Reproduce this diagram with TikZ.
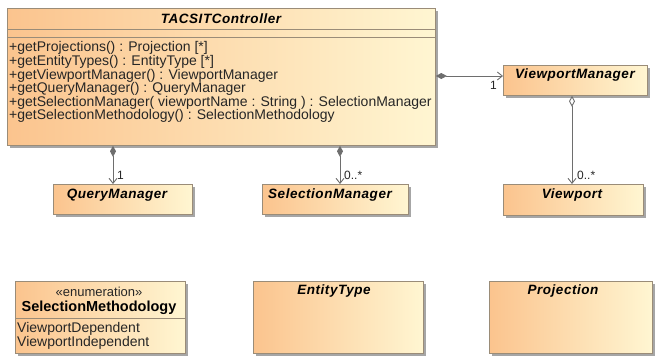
\documentclass[tikz,border=0pt]{standalone}
\usepackage{fontspec}
\setmainfont{Liberation Sans}
\newfontfamily\titlefont[LetterSpace=4]{Liberation Sans}
\usetikzlibrary{arrows.meta,shadows}
\definecolor{boxleft}{HTML}{FBC48E}
\definecolor{boxright}{HTML}{FFF6D2}
\definecolor{boxline}{HTML}{9A8C78}
\definecolor{conn}{HTML}{6E6E6E}
\tikzset{
  cls/.style={draw=boxline, line width=0.8pt, left color=boxleft, right color=boxright,
    anchor=north west, inner sep=0pt,
    drop shadow={shadow xshift=2.5pt, shadow yshift=-2.5pt, fill=black!50, opacity=0.7}},
  ttl/.style={font=\titlefont\bfseries\itshape\fontsize{13.5}{15}\selectfont, inner sep=0pt, anchor=center},
  mth/.style={font=\fontsize{14}{13.6}\selectfont, inner sep=0pt, anchor=north west, align=left, text=black!85},
  comp/.style={draw=conn, line width=0.9pt, {Diamond[length=11pt,width=6pt,fill=conn]}-{Straight Barb[length=5pt,width=8pt]}},
  aggr/.style={draw=conn, line width=0.9pt, {Diamond[length=11pt,width=6pt,open,fill=white]}-{Straight Barb[length=5pt,width=8pt]}},
  mult/.style={font=\fontsize{12}{13}\selectfont, inner sep=0pt, text=black!85}
}
\begin{document}
\begin{tikzpicture}[x=1pt,y=-1pt]
\useasboundingbox (0,0) rectangle (655,356);
% TACSITController
\node[cls, minimum width=428pt, minimum height=137pt] (tc) at (7,8) {};
\node[ttl] (tct) at (221,19) {TACSITController};
\draw[boxline, line width=0.8pt] (tc.north west) ++(0,21) coordinate (s1) -- (s1 -| tc.east);
\draw[boxline, line width=0.8pt] (tc.north west) ++(0,29) coordinate (s2) -- (s2 -| tc.east);
\node[mth] (tcm) at (9,41.5) {+getProjections() : Projection [*]\\
+getEntityTypes() : EntityType [*]\\
+getViewportManager() : ViewportManager\\
+getQueryManager() : QueryManager\\
+getSelectionManager( viewportName : String ) : SelectionManager\\
+getSelectionMethodology() : SelectionMethodology};
% ViewportManager
\node[cls, minimum width=144pt, minimum height=30pt] (vm) at (503,65) {};
\node[ttl] (vmt) at (575,75) {ViewportManager};
% QueryManager
\node[cls, minimum width=139pt, minimum height=30pt] (qm) at (53,184) {};
\node[ttl] (qmt) at (117,195) {QueryManager};
% SelectionManager
\node[cls, minimum width=146pt, minimum height=30pt] (sm) at (262,184) {};
\node[ttl] (smt) at (330,195) {SelectionManager};
% Viewport
\node[cls, minimum width=140pt, minimum height=31pt] (vp) at (503,184) {};
\node[ttl] (vpt) at (572,195) {Viewport};
% SelectionMethodology
\node[cls, minimum width=170pt, minimum height=72pt] (sme) at (15,281) {};
\node[inner sep=0pt, anchor=center, font=\fontsize{13}{14}\selectfont, text=black!85] (smst) at (99,292) {«enumeration»};
\node[inner sep=0pt, anchor=center, font=\bfseries\fontsize{14.5}{16}\selectfont] (smet) at (99,307.5) {SelectionMethodology};
\draw[boxline, line width=0.8pt] (sme.north west) ++(0,37) coordinate (s3) -- (s3 -| sme.east);
\node[mth, font=\fontsize{14}{12.5}\selectfont] (smel) at (17,322) {ViewportDependent\\ViewportIndependent};
% EntityType
\node[cls, minimum width=170pt, minimum height=72pt] (et) at (253,281) {};
\node[ttl] (ett) at (334,291) {EntityType};
% Projection
\node[cls, minimum width=163pt, minimum height=72pt] (pr) at (489,281) {};
\node[ttl] (prt) at (563,291) {Projection};
% connectors
\coordinate (cq) at (113,0);
\coordinate (cs) at (340,0);
\coordinate (cv) at (572,0);
\coordinate (ch) at (0,76);
\draw[comp] (tc.south -| cq) -- (qm.north -| cq);
\draw[comp] (tc.south -| cs) -- (sm.north -| cs);
\draw[comp] (tc.east |- ch) -- (vm.west |- ch);
\draw[aggr] (vm.south -| cv) -- (vp.north -| cv);
% multiplicities
\node[mult, anchor=south west] (m1) at (117,180) {1};
\node[mult, anchor=south west] (m2) at (344,180) {0..*};
\node[mult, anchor=north east] (m3) at (497,81) {1};
\node[mult, anchor=south west] (m4) at (577,180) {0..*};
\end{tikzpicture}
\end{document}
